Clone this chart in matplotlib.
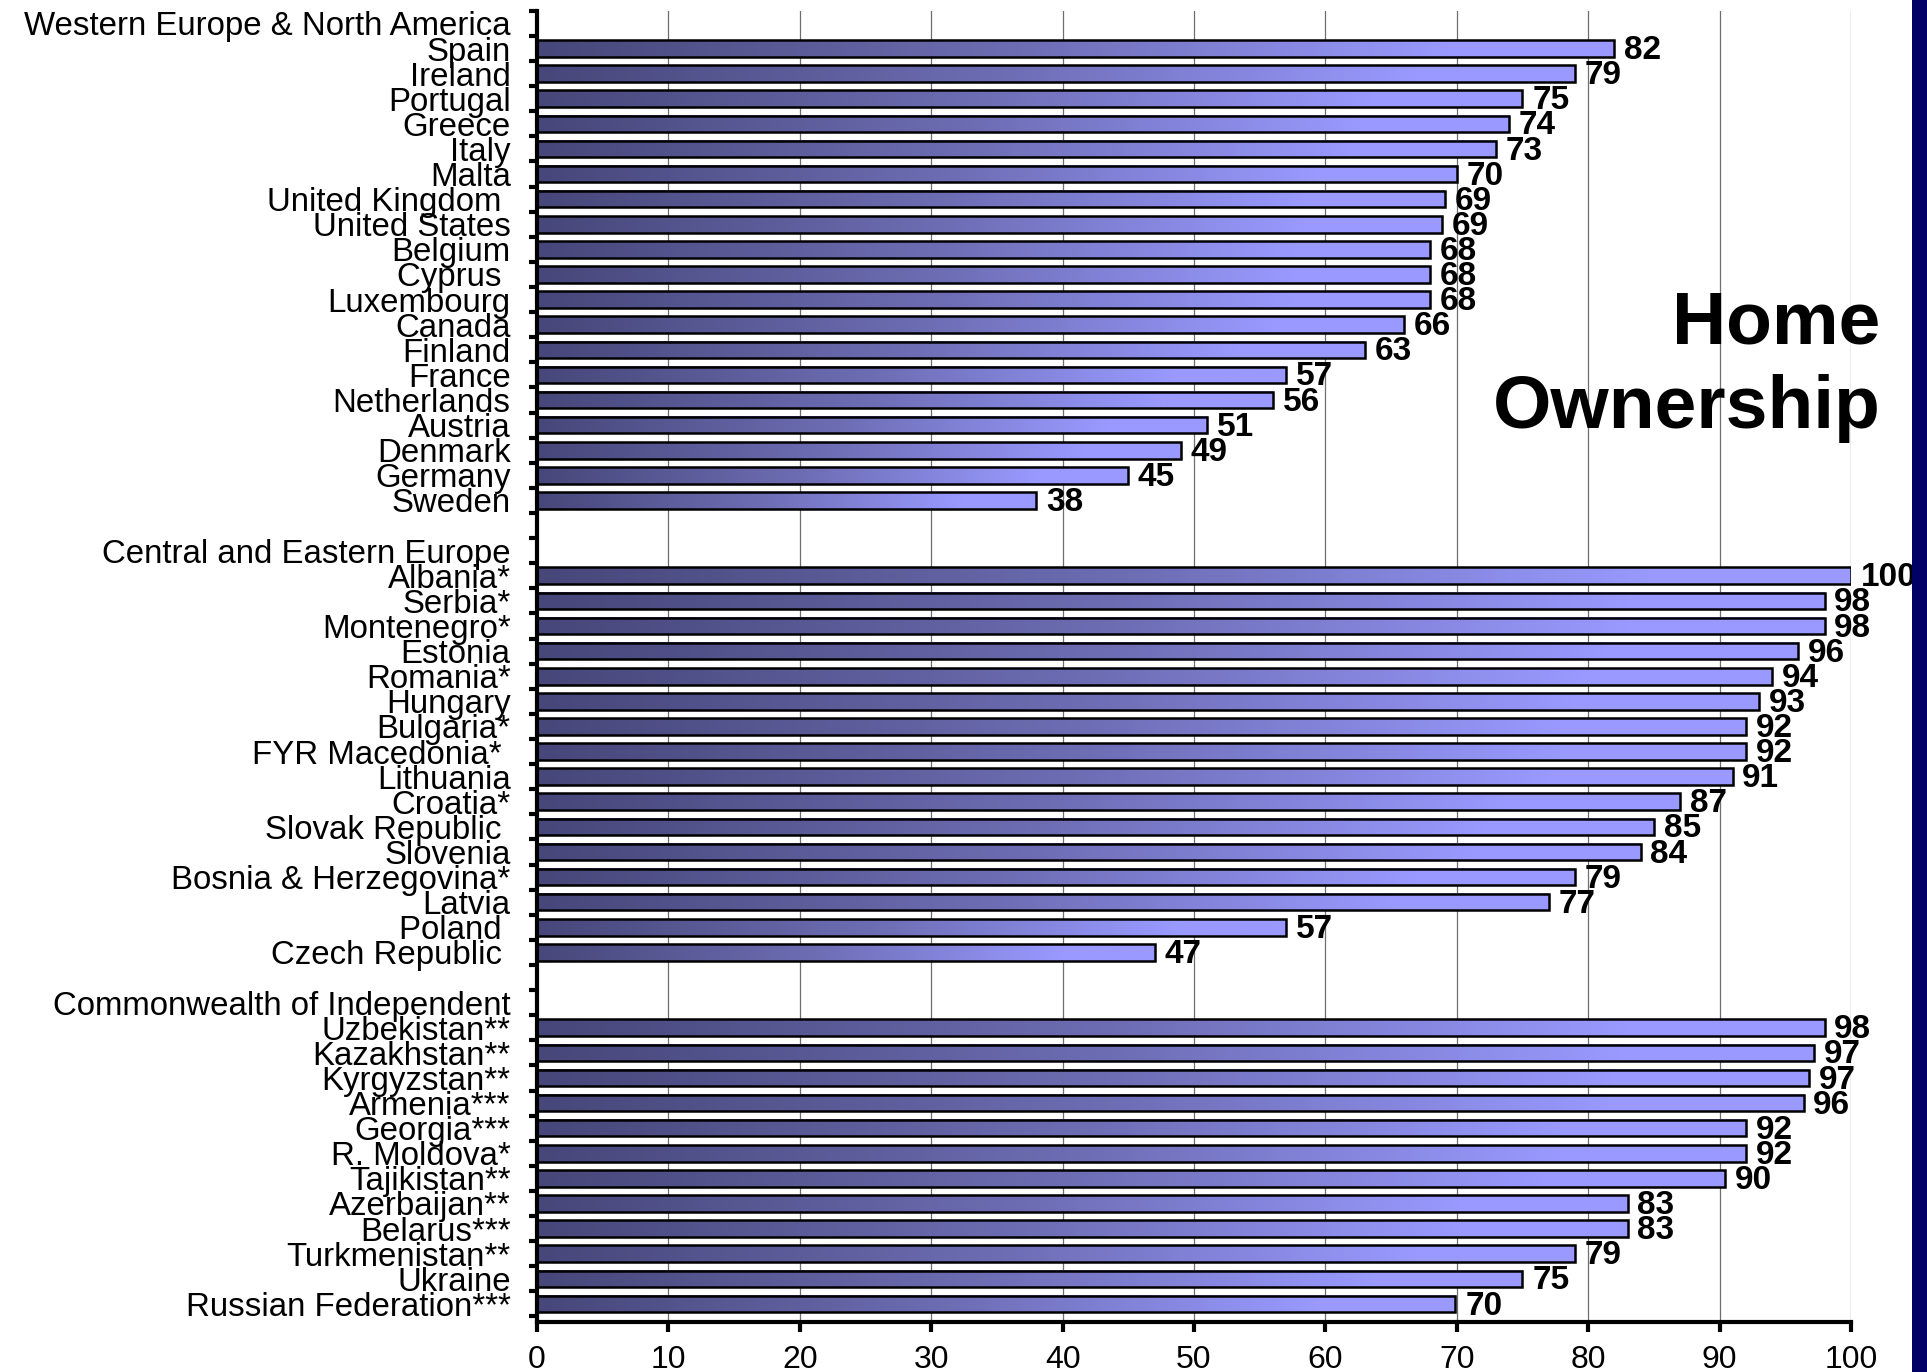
import matplotlib
matplotlib.use('Agg')
import matplotlib.pyplot as plt
import numpy as np
from matplotlib.colors import LinearSegmentedColormap
from matplotlib.patches import Rectangle

plt.rcParams['font.family'] = ['Liberation Sans', 'DejaVu Sans']

# Data (percent of homes owner-occupied)
we_header = 'Western Europe & North America'
we_countries = ['Spain', 'Ireland', 'Portugal', 'Greece', 'Italy', 'Malta',
                'United Kingdom ', 'United States', 'Belgium', 'Cyprus ',
                'Luxembourg', 'Canada', 'Finland', 'France', 'Netherlands',
                'Austria', 'Denmark', 'Germany', 'Sweden']
we_values = [82, 79, 75, 74, 73, 70, 69.1, 68.9, 68, 68, 68, 66, 63, 57, 56,
             51, 49, 45, 38]

cee_header = 'Central and Eastern Europe'
cee_countries = ['Albania*', 'Serbia*', 'Montenegro*', 'Estonia', 'Romania*',
                 'Hungary', 'Bulgaria*', 'FYR Macedonia* ', 'Lithuania',
                 'Croatia*', 'Slovak Republic ', 'Slovenia',
                 'Bosnia & Herzegovina*', 'Latvia', 'Poland ',
                 'Czech Republic ']
cee_values = [100, 98, 98, 96, 94, 93, 92, 92, 91, 87, 85, 84, 79, 77, 57, 47]

cis_header = 'Commonwealth of Independent'
cis_countries = ['Uzbekistan**', 'Kazakhstan**', 'Kyrgyzstan**', 'Armenia***',
                 'Georgia***', 'R. Moldova*', 'Tajikistan**', 'Azerbaijan**',
                 'Belarus***', 'Turkmenistan**', 'Ukraine',
                 'Russian Federation***']
cis_values = [98, 97.2, 96.8, 96.4, 92, 92, 90.4, 83, 83, 79, 75, 69.9]

x_ticks = list(range(0, 101, 10))

groups = [(we_header, we_countries, we_values),
          (cee_header, cee_countries, cee_values),
          (cis_header, cis_countries, cis_values)]

# Build the row list: header, countries, blank spacer between groups
labels = []
values = []
for i, (header, countries, vals) in enumerate(groups):
    labels.append(header)
    values.append(None)
    labels.extend(countries)
    values.extend(vals)
    if i < len(groups) - 1:
        labels.append('')
        values.append(None)

rows = np.arange(len(labels))

fig = plt.figure(figsize=(19.27, 13.72), dpi=100)
ax = fig.add_axes([0.2787, 0.0368, 0.6818, 0.9553])

cmap = LinearSegmentedColormap.from_list(
    'bar_grad', [(0.0, '#47477a'), (0.45, '#6d6db4'), (0.85, '#9999ff'), (1.0, '#9999ff')])
grad = np.linspace(0, 1, 256).reshape(1, -1)
bar_h = 0.66

for y, v in zip(rows, values):
    if v is None:
        continue
    ax.imshow(grad, cmap=cmap, aspect='auto', interpolation='bilinear',
              extent=(0, v, y + bar_h / 2, y - bar_h / 2), zorder=2)
    ax.barh(y, v, height=bar_h, facecolor='none', edgecolor='black',
            linewidth=1.8, zorder=3)
    ax.annotate(f'{v:.0f}', xy=(v, y), xytext=(7, -1.5), textcoords='offset points',
                ha='left', va='center', fontsize=24, fontweight='bold', zorder=4)

ax.set_xlim(0, 100)
ax.set_ylim(51.7, -0.5)

ax.set_xticks(x_ticks)
ax.set_xticklabels([str(t) for t in x_ticks], fontsize=23)
ax.tick_params(axis='x', direction='out', length=7, width=3, pad=10)

ax.set_yticks(rows)
ax.set_yticklabels(labels, fontsize=23.8)
ax.set_yticks(np.arange(-0.5, len(labels), 1.0), minor=True)
ax.tick_params(axis='y', which='major', length=0, pad=19)
ax.tick_params(axis='y', which='minor', direction='out', length=6, width=3)

ax.grid(axis='x', color='#6f6f6f', linewidth=0.9, zorder=0)
ax.set_axisbelow(True)

for side in ['top', 'right']:
    ax.spines[side].set_visible(False)
for side in ['left', 'bottom']:
    ax.spines[side].set_linewidth(3)
    ax.spines[side].set_zorder(5)

fig.text(0.976, 0.733, 'Home\nOwnership', ha='right', va='center',
         fontsize=54, fontweight='bold', linespacing=1.3)

# navy strip on the right edge
fig.patches.append(Rectangle((0.9922, 0), 0.0078, 1, transform=fig.transFigure,
                             facecolor='#000066', edgecolor='none'))

fig.savefig('out.png', dpi=100)
